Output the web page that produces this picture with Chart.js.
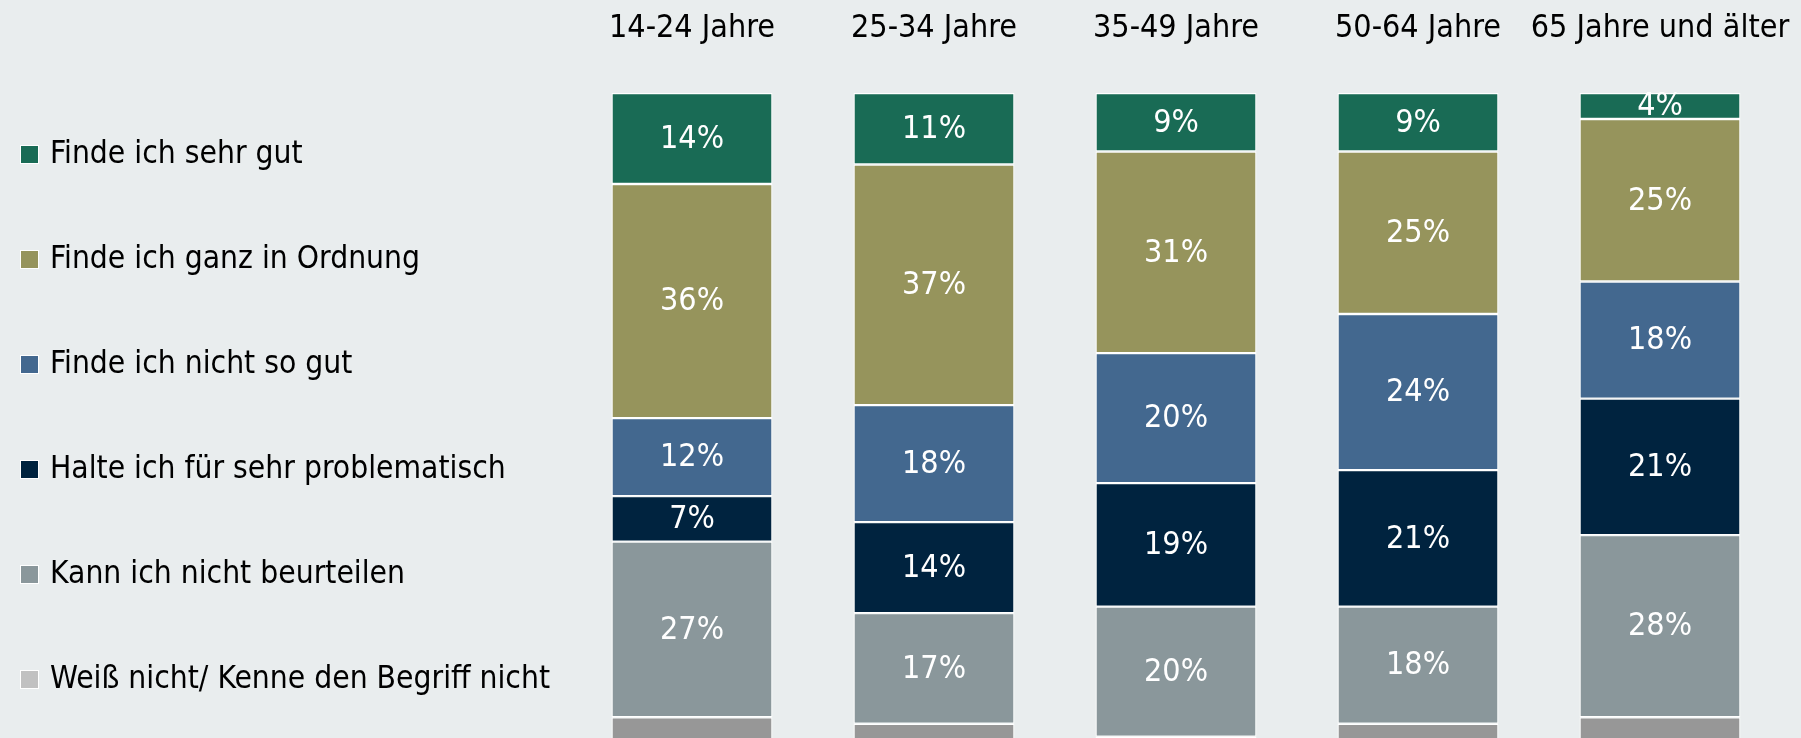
<!DOCTYPE html>
<html lang="de">
<head>
<meta charset="utf-8">
<title>Altersgruppen</title>
<script src="https://cdn.jsdelivr.net/npm/chart.js@4.4.1/dist/chart.umd.min.js"></script>
<style>
  html, body { margin: 0; padding: 0; background: #e9edee; overflow: hidden; }
  #chartBox { width: 1801px; height: 738px; }
</style>
</head>
<body>
<div id="chartBox"><canvas id="myChart" width="1801" height="738"></canvas></div>
<script>
'use strict'

const ageGroups = ['14-24 Jahre', '25-34 Jahre', '35-49 Jahre', '50-64 Jahre', '65 Jahre und älter'];

// values in percent, one array per answer
const sehrGut = [14, 11, 9, 9, 4];
const ganzInOrdnung = [36, 37, 31, 25, 25];
const nichtSoGut = [12, 18, 20, 24, 18];
const sehrProblematisch = [7, 14, 19, 21, 21];
const kannNichtBeurteilen = [27, 17, 20, 18, 28];
const weissNicht = [4, 3, 1, 3, 4];

const fontFamily = '"DejaVu Sans Condensed", "DejaVu Sans", sans-serif';

// bottom of the stack first
const datasets = [
  { label: 'Weiß nicht/ Kenne den Begriff nicht', data: weissNicht, backgroundColor: '#979797', legendColor: '#c1c1c1', noLabels: true },
  { label: 'Kann ich nicht beurteilen', data: kannNichtBeurteilen, backgroundColor: '#8a979b' },
  { label: 'Halte ich für sehr problematisch', data: sehrProblematisch, backgroundColor: '#00233f' },
  { label: 'Finde ich nicht so gut', data: nichtSoGut, backgroundColor: '#43688f' },
  { label: 'Finde ich ganz in Ordnung', data: ganzInOrdnung, backgroundColor: '#96945c' },
  { label: 'Finde ich sehr gut', data: sehrGut, backgroundColor: '#196b55' }
];

for (let ds of datasets) {
  ds.borderColor = '#ffffff';
  ds.borderWidth = 1.2;
  ds.borderSkipped = false;
  ds.categoryPercentage = 1;
  ds.barPercentage = 0.665;
}

// white percent labels in the middle of each segment
const segmentLabels = {
  id: 'segmentLabels',
  afterDatasetsDraw(chart) {
    const ctx = chart.ctx;
    ctx.save();
    ctx.fillStyle = '#ffffff';
    ctx.font = '32px ' + fontFamily;
    ctx.textAlign = 'center';
    ctx.textBaseline = 'middle';
    chart.data.datasets.forEach(function(ds, i) {
      if (ds.noLabels) return;
      const meta = chart.getDatasetMeta(i);
      meta.data.forEach(function(bar, j) {
        const y = (bar.y + bar.base) / 2;
        ctx.fillText(ds.data[j] + '%', bar.x, y + 1);
      });
    });
    ctx.restore();
  }
};

// legend on the left, top entry = top of the stack
const sideLegend = {
  id: 'sideLegend',
  afterDraw(chart) {
    const ctx = chart.ctx;
    const items = chart.data.datasets.slice().reverse();
    ctx.save();
    ctx.font = '31.5px ' + fontFamily;
    ctx.textAlign = 'left';
    ctx.textBaseline = 'middle';
    items.forEach(function(ds, i) {
      const y = 154 + i * 105;
      ctx.fillStyle = '#ffffff';
      ctx.fillRect(20, y - 9, 19, 19);
      ctx.fillStyle = ds.legendColor || ds.backgroundColor;
      ctx.fillRect(21, y - 8, 17, 17);
      ctx.fillStyle = '#000000';
      ctx.fillText(ds.label, 50, y + 1);
    });
    ctx.restore();
  }
};

const ctx = document.getElementById('myChart').getContext('2d');

const myChart = new Chart(ctx, {
  type: 'bar',
  data: {
    labels: ageGroups,
    datasets: datasets
  },
  options: {
    responsive: false,
    animation: false,
    layout: {
      padding: { left: 571, right: 20, top: 0, bottom: 0 }
    },
    plugins: {
      legend: { display: false },
      tooltip: { enabled: false }
    },
    scales: {
      x: {
        position: 'top',
        stacked: true,
        grid: { display: false, drawTicks: false },
        border: { display: false },
        ticks: {
          color: '#000000',
          padding: 45,
          maxRotation: 0,
          autoSkip: false,
          font: { family: fontFamily, size: 32 }
        },
        afterFit(scale) {
          // keep the long last label from squeezing the plot
          scale.height = 93;
          scale.paddingLeft = 0;
          scale.paddingRight = 0;
        }
      },
      y: {
        display: false,
        stacked: true,
        min: 0.8,
        max: 100
      }
    }
  },
  plugins: [segmentLabels, sideLegend]
});
</script>
</body>
</html>
